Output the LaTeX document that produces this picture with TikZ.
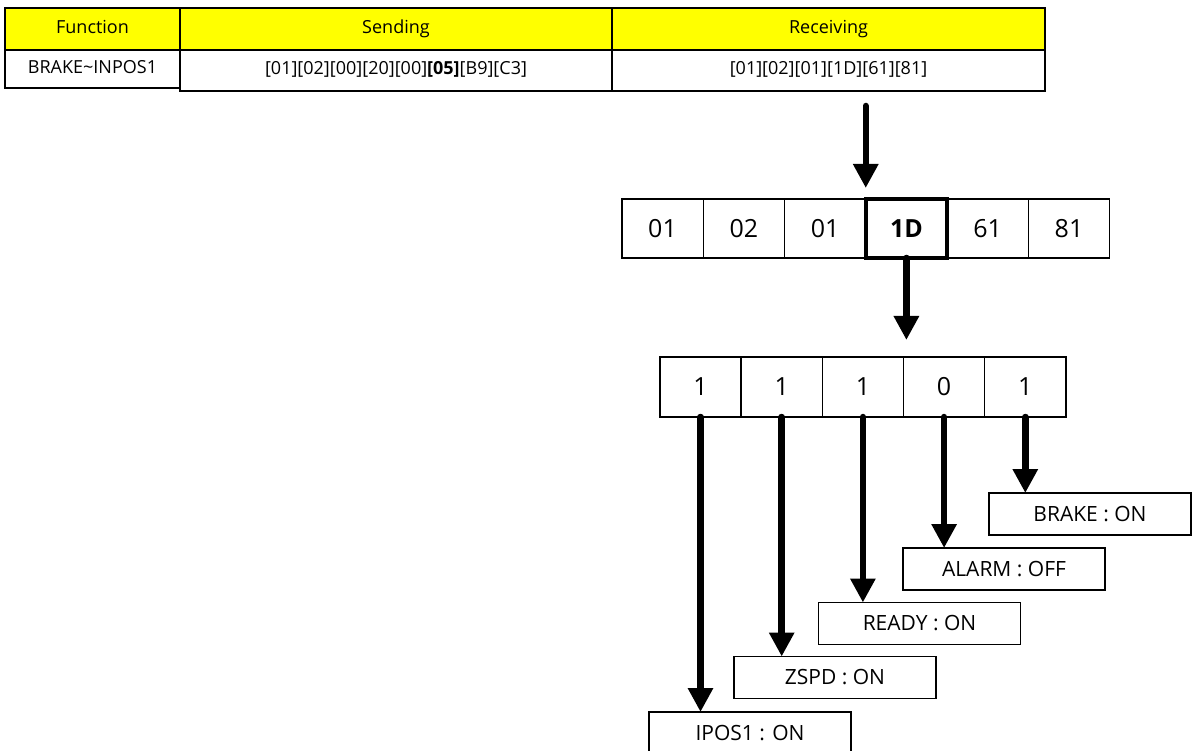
\documentclass[tikz,border=0pt]{standalone}
\usepackage{fontspec}
\setmainfont{Open Sans}
\usetikzlibrary{%
	arrows.meta,%
	positioning,%
}
\definecolor{cyellow}{RGB}{255, 255, 0}
\tikzset{
	>=Triangle,%
	nodes={align=center},%
	headcell/.style={%
			draw,%
			rectangle,%
			line width=1.5pt,%
			fill=cyellow,%
			inner sep=0,%
			outer sep=0,%
			text height=13pt,%
			text depth=4pt,%
			minimum height=42pt,%
			font=\fontsize{18}{20}\selectfont},%
	datacell/.style={%
			draw,%
			rectangle,%
			line width=1.5pt,%
			inner sep=0,%
			outer sep=0,%
			text height=13pt,%
			text depth=4pt,%
			minimum height=41pt,%
			font=\fontsize{18}{20}\selectfont},%
	bytebox/.style={%
			draw,%
			rectangle,%
			line width=1.3pt,%
			inner sep=0,%
			outer sep=0,%
			minimum width=81.3pt,%
			minimum height=59pt,%
			font=\fontsize{25}{28}\selectfont},%
	bitbox/.style={%
			bytebox,%
			minimum width=81.2pt,%
			minimum height=60pt},%
	flagbox/.style={%
			draw,%
			rectangle,%
			line width=1.5pt,%
			inner sep=0,%
			outer sep=0,%
			minimum width=202pt,%
			minimum height=42pt,%
			font=\fontsize{21}{24}\selectfont},%
	bigarrow/.style={%
			-{Triangle[width=24pt,length=24pt]},%
			line width=6.5pt,%
			line cap=round},%
}

\begin{document}
\begin{tikzpicture}[x=1pt, y=-1pt]%
	\useasboundingbox (0,0) rectangle (1192,751);

	\node[headcell, minimum width=175pt] (hfunc) at (92.5,29) {Function};
	\node[headcell, minimum width=432pt] (hsend) [right=0pt of hfunc] {Sending};
	\node[headcell, minimum width=433pt] (hrecv) [right=0pt of hsend] {Receiving};

	\node[datacell, minimum width=175pt, minimum height=38pt] (dfunc) [below=0pt of hfunc] {BRAKE\textasciitilde INPOS1};
	\node[datacell, minimum width=432pt] (dsend) [below=0pt of hsend] {[01][02][00][20][00]\textbf{[05]}[B9][C3]};
	\node[datacell, minimum width=433pt] (drecv) [below=0pt of hrecv] {[01][02][01][1D][61][81]};

	\node[bytebox] (b1) at (662.5,228.5) {01};
	\node[bytebox] (b2) [right=0pt of b1] {02};
	\node[bytebox] (b3) [right=0pt of b2] {01};
	\node[bytebox, line width=4pt, font=\fontsize{25}{28}\selectfont\bfseries] (b4) [right=0pt of b3] {1D};
	\node[bytebox] (b5) [right=0pt of b4] {61};
	\node[bytebox] (b6) [right=0pt of b5] {81};

	\node[bitbox] (c1) at (700.5,387) {1};
	\node[bitbox] (c2) [right=0pt of c1] {1};
	\node[bitbox] (c3) [right=0pt of c2] {1};
	\node[bitbox] (c4) [right=0pt of c3] {0};
	\node[bitbox] (c5) [right=0pt of c4] {1};

	\node[flagbox] (brake) at (1090,514) {BRAKE : ON};
	\node[flagbox] (alarm) at (1004,569) {ALARM : OFF};
	\node[flagbox] (ready) at (919.5,623.5) {READY : ON};
	\node[flagbox] (zspd) at (835,677.5) {ZSPD : ON};
	\node[flagbox] (ipos) at (750,733) {IPOS1 : ON};

	\draw[bigarrow] ([yshift=-15pt]drecv.south -| b4.north west) to ([yshift=11pt]b4.north west);
	\draw[bigarrow] (b4.south) to ([yshift=17pt]b4.south |- c4.north);

	\draw[bigarrow] (c1.south) to (c1.south |- ipos.north);
	\draw[bigarrow] (c2.south) to (c2.south |- zspd.north);
	\draw[bigarrow] (c3.south) to (c3.south |- ready.north);
	\draw[bigarrow] (c4.south) to (c4.south |- alarm.north);
	\draw[bigarrow] (c5.south) to (c5.south |- brake.north);
\end{tikzpicture}
\end{document}
